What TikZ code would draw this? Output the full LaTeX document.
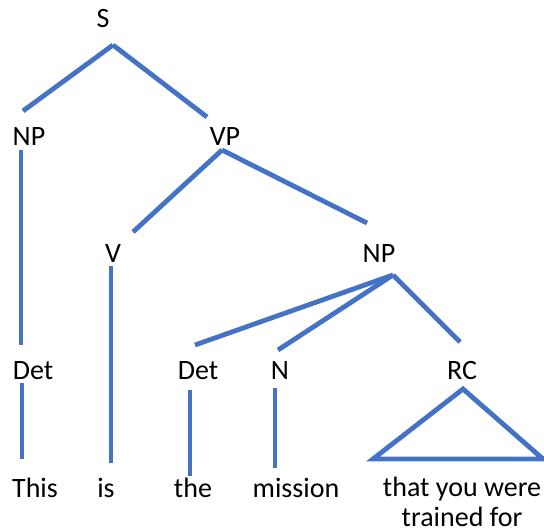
\documentclass[tikz,border=0pt]{standalone}
\usepackage{fontspec}
\setmainfont{Carlito}
\usetikzlibrary{calc}

\definecolor{treeblue}{HTML}{4472C4}
\tikzset{
  cat/.style={anchor=base, inner sep=0pt, font=\fontsize{21}{25}\selectfont},
  branch/.style={draw=treeblue, line width=3.6pt}
}

\begin{document}
\begin{tikzpicture}[x=0.75pt, y=-0.75pt]
				\useasboundingbox (0,0) rectangle (544,532);
				% categories
				\node[cat] (S)at(103, 27) {S};
				\node[cat] (NP1)at(29, 145) {NP};
				\node[cat] (VP)at(225, 145) {VP};
				\node[cat] (V)at(113, 262) {V};
				\node[cat] (NP2)at(379, 262) {NP};
				\node[cat] (Det1)at(33, 379) {Det};
				\node[cat] (Det2)at(198, 379) {Det};
				\node[cat] (N)at(280, 379) {N};
				\node[cat] (RC)at(462, 379) {RC};
				% words
				\node[cat] (This)at(35, 497) {This};
				\node[cat] (is)at(106, 497) {is};
				\node[cat] (the)at(193, 497) {the};
				\node[cat] (mission)at(296, 497) {mission};
				\node[cat, align=center, font=\fontsize{21}{22}\selectfont] (rel)at(462, 526) {that you were\\trained for};
				% branches
				\draw[branch] ($(S.base)+(10,18)$) -- ($(NP1.base)+(-6,-34)$);
				\draw[branch] ($(S.base)+(10,18)$) -- ($(VP.base)+(-18,-28)$);
				\draw[branch] ($(NP1.base)+(-8,5)$) -- ($(Det1.base)+(-12,-34)$);
				\draw[branch] ($(Det1.base)+(-11,4)$) -- ($(This.base)+(-13,-38)$);
				\draw[branch] ($(VP.base)+(-3,5)$) -- ($(V.base)+(20,-30)$);
				\draw[branch] ($(VP.base)+(-3,5)$) -- ($(NP2.base)+(-12,-39)$);
				\draw[branch] ($(V.base)+(-2,4)$) -- ($(is.base)+(5,-34)$);
				\draw[branch] ($(NP2.base)+(14,13)$) -- ($(Det2.base)+(-3,-34)$);
				\draw[branch] ($(NP2.base)+(14,13)$) -- ($(N.base)+(-2,-29)$);
				\draw[branch] ($(NP2.base)+(14,13)$) -- ($(RC.base)+(-2,-37)$);
				\draw[branch] ($(Det2.base)+(-8,11)$) -- ($(the.base)+(-3,-21)$);
				\draw[branch] ($(N.base)+(-5,9)$) -- ($(mission.base)+(-21,-29)$);
				\draw[branch] ($(RC.base)+(1,10)$) -- ($(rel.base)+(-89,-67)$) -- ($(rel.base)+(81,-67)$) -- cycle;
		\end{tikzpicture}
\end{document}
